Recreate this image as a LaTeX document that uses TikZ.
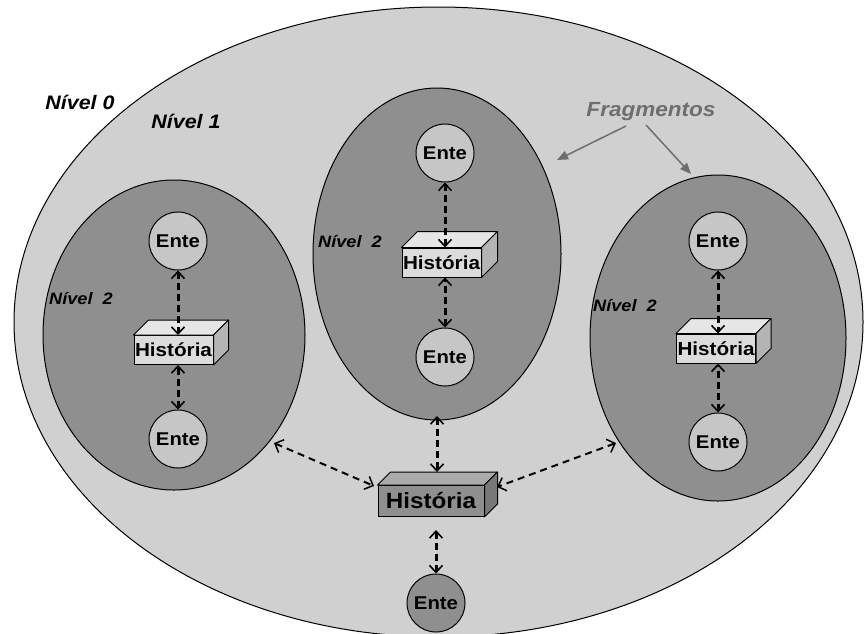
\documentclass[tikz,border=0pt]{standalone}
\usepackage{fontspec}
\setmainfont{Liberation Sans}[FakeStretch=1.1]
\usetikzlibrary{shapes.geometric,arrows.meta}
\definecolor{outerfill}{HTML}{D0D0D0}
\definecolor{innerfill}{HTML}{8F8F8F}
\definecolor{entefill}{HTML}{C6C6C6}
\definecolor{boxfront}{HTML}{DCDCDC}
\definecolor{boxtop}{HTML}{E6E6E6}
\definecolor{boxside}{HTML}{B4B4B4}
\definecolor{bigfront}{HTML}{8F8F8F}
\definecolor{bigtop}{HTML}{ABABAB}
\definecolor{bigside}{HTML}{787878}
\definecolor{fraggray}{HTML}{6E6E6E}
\tikzset{
  outerell/.style={ellipse,draw=black,line width=1pt,fill=outerfill,inner sep=0pt},
  innerell/.style={ellipse,draw=black,line width=1pt,fill=innerfill,inner sep=0pt},
  ente/.style={circle,draw=black,line width=1pt,fill=entefill,minimum size=58pt,inner sep=0pt,font=\bfseries\fontsize{18.5}{18.5}\selectfont},
  bottomente/.style={ente,fill=innerfill},
  histbox/.style={rectangle,draw=black,line width=1pt,fill=boxfront,minimum width=79pt,minimum height=29pt,inner sep=0pt,font=\bfseries\fontsize{18.8}{18.8}\selectfont},
  bighist/.style={histbox,fill=bigfront,minimum width=106pt,minimum height=31pt,font=\bfseries\fontsize{22}{22}\selectfont},
  lvl/.style={font=\bfseries\itshape\fontsize{19.5}{19.5}\selectfont,inner sep=0pt},
  lvltwo/.style={font=\bfseries\itshape\fontsize{16.5}{16.5}\selectfont,inner sep=0pt},
  dlink/.style={dashed,dash pattern=on 7pt off 4pt,line width=3pt,{Straight Barb[length=7pt,width=13pt,line width=1.6pt]}-{Straight Barb[length=7pt,width=13pt,line width=1.6pt]}},
  olink/.style={dashed,dash pattern=on 7pt off 5pt,line width=2pt,{Straight Barb[length=7pt,width=14pt,line width=1.5pt]}-{Straight Barb[length=7pt,width=14pt,line width=1.5pt]}},
  fraglink/.style={draw=fraggray,line width=1.5pt,-{Triangle[length=11pt,width=9pt]}}
}
\newcommand{\boxdepth}[4]{% node, dx, dy, colors top/side
  \filldraw[fill=#4top,line width=1pt,line join=round] (#1.north west) -- ++(#2,-#3) -- ([xshift=#2pt,yshift=#3pt]#1.north east) -- (#1.north east) -- cycle;
  \filldraw[fill=#4side,line width=1pt,line join=round] (#1.north east) -- ([xshift=#2pt,yshift=#3pt]#1.north east) -- ([xshift=#2pt,yshift=#3pt]#1.south east) -- (#1.south east) -- cycle;
}
\begin{document}
\begin{tikzpicture}[x=1pt,y=-1pt]
\useasboundingbox (0,0) rectangle (864,633);
\begin{scope}
\clip (0,0) rectangle (864,633);
\node[outerell,minimum width=849pt,minimum height=630pt] (n0) at (438.5,322) {};
\end{scope}
\node[innerell,minimum width=262pt,minimum height=310pt] (lft) at (174,335) {};
\node[innerell,minimum width=248pt,minimum height=332pt] (mid) at (437,254) {};
\node[innerell,minimum width=256pt,minimum height=326pt] (rgt) at (718,338) {};

% labels
\node[lvl] (l0) at (80,102) {Nível 0};
\node[lvl] (l1) at (186,121) {Nível 1};
\node[lvltwo] (l2a) at (81,299) {Nível\ \ 2};
\node[lvltwo] (l2b) at (350,242) {Nível\ \ 2};
\node[lvltwo] (l2c) at (625,306) {Nível\ \ 2};
\node[lvl,text=fraggray,font=\bfseries\itshape\fontsize{20.5}{20.5}\selectfont] (frag) at (651,112) {Fragmentos};

% left column
\node[ente] (e1t) at (178,241) {Ente};
\node[histbox] (h1) at (173.5,350) {História};
\boxdepth{h1}{15}{15}{box}
\node[ente] (e1b) at (178,439) {Ente};
% middle column
\node[ente] (e2t) at (445,153) {Ente};
\node[histbox] (h2) at (441.5,262.5) {História};
\boxdepth{h2}{16}{16}{box}
\node[ente] (e2b) at (445,357) {Ente};
% right column
\node[ente] (e3t) at (718,241) {Ente};
\node[histbox] (h3) at (716,348.5) {História};
\boxdepth{h3}{15}{15}{box}
\node[ente] (e3b) at (718,442) {Ente};

% central
\node[bighist] (hb) at (431,501) {História};
\boxdepth{hb}{13}{13}{big}
\node[bottomente] (eb) at (436,603) {Ente};

% column links
\draw[dlink] (e1t.south) -- (e1t.south |- h1.north);
\draw[dlink] (e1b.north) -- (e1b.north |- h1.south);
\draw[dlink] (e2t.south) -- (e2t.south |- h2.north);
\draw[dlink] (e2b.north) -- (e2b.north |- h2.south);
\draw[dlink] (e3t.south) -- (e3t.south |- h3.north);
\draw[dlink] (e3b.north) -- (e3b.north |- h3.south);

% central links
\coordinate (ml) at (437,416);
\coordinate (mb) at (437,472);
\coordinate (ll) at (274,443);
\coordinate (la) at (374,486);
\coordinate (rl) at (616,443);
\coordinate (ra) at (497,487);
\coordinate (bt) at (436,530);
\draw[dlink] (ml) -- (mb);
\draw[dlink] (bt) -- (eb.north);
\draw[olink] (ll) -- (la);
\draw[olink] (rl) -- (ra);

% fragmentos arrows
\coordinate (f1) at (557,160);
\coordinate (f2) at (691,174);
\draw[fraglink] (626,126) -- (f1);
\draw[fraglink] (646,125) -- (f2);
\end{tikzpicture}
\end{document}
